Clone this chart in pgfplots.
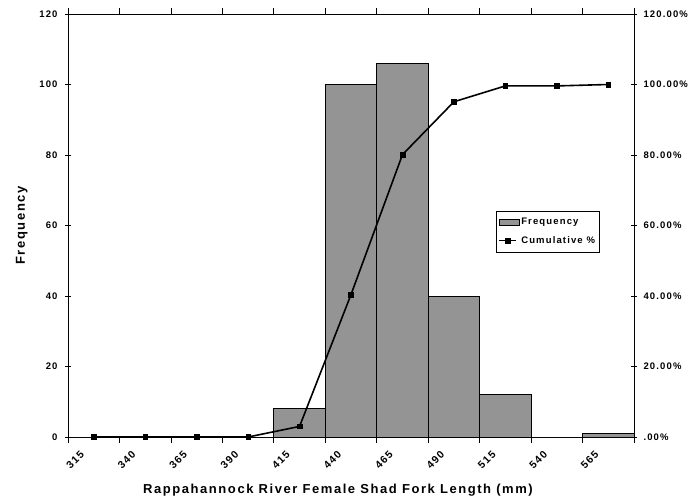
\documentclass[border=0pt]{standalone}
\usepackage{pgfplots}
\pgfplotsset{compat=1.18}
\usepackage{fontspec}
\setmainfont{Liberation Sans}
\newfontfamily\wfont{Liberation Sans}[LetterSpace=12]
\begin{document}
\begin{tikzpicture}
\pgfplotsset{
  common/.style={
    scale only axis, width=566pt, height=423pt,
    xmin=-0.5, xmax=10.5,
    tick align=center,
    /pgf/number format/assume math mode=true,
    tick label style={font=\wfont\bfseries\fontsize{9.5}{11}\selectfont},
    axis line style={line width=0.9pt},
    tick style={line width=0.7pt, black},
    major tick length=6pt,
  }
}
\begin{axis}[common,
  ymin=0, ymax=120, ytick={0,20,...,120}, ytick pos=left,
  yticklabel style={xshift=-4pt},
  xtick={0,...,10},
  xticklabels={315,340,365,390,415,440,465,490,515,540,565},
  major x tick style={draw=none},
  minor xtick={-0.5,0.5,...,10.5},
  minor tick length=6pt,
  minor x tick style={line width=0.7pt, black},
  xticklabel style={font=\wfont\bfseries\fontsize{10.5}{12}\selectfont, xshift=-9pt, yshift=-7pt, rotate=45, anchor=east},
  xlabel={Rappahannock River Female Shad Fork Length (mm)},
  xlabel style={font=\wfont\bfseries\fontsize{13}{15}\selectfont, at={(axis description cs:0.477,0)}, anchor=base, yshift=-56pt},
  ylabel={Frequency},
  ylabel style={font=\wfont\bfseries\fontsize{13}{15}\selectfont, at={(axis description cs:-0.076,0.5)}, anchor=base},
  ybar, bar width=1,
]
\addplot[draw=black, line width=0.9pt, fill=black!42] coordinates {
(0,0) (1,0) (2,0) (3,0) (4,8) (5,100) (6,106) (7,40) (8,12) (9,0) (10,1)};
\end{axis}
\begin{axis}[common,
  ymin=0, ymax=120, ytick={0,20,...,120},
  yticklabels={.00\%,20.00\%,40.00\%,60.00\%,80.00\%,100.00\%,120.00\%},
  yticklabel style={xshift=3pt},
  axis y line*=right, axis x line=none,
  legend style={at={(0.756,0.534)}, anchor=north west, draw=black, line width=0.6pt,
    font=\wfont\bfseries\fontsize{9.5}{11}\selectfont, inner xsep=2pt, inner ysep=5pt, row sep=6pt},
  legend cell align=left,
]
\addlegendimage{legend image code/.code={\draw[fill=black!42, draw=black, line width=0.6pt] (0pt,-3pt) rectangle (20pt,3pt);}}
\addlegendentry{Frequency}
\addplot[black, line width=1.6pt, mark=square*, mark size=2.3pt, mark options={line width=0.5pt}] coordinates {
(0,0) (1,0) (2,0) (3,0) (4,3.0) (5,40.4) (6,80.1) (7,95.1) (8,99.6) (9,99.6) (10,100.0)};
\addlegendentry{Cumulative \%}
\end{axis}
\pgfresetboundingbox
\path[use as bounding box] ([shift={(-68pt,-62pt)}]current axis.south west) rectangle ([shift={(58pt,14pt)}]current axis.north east);
\end{tikzpicture}
\end{document}
